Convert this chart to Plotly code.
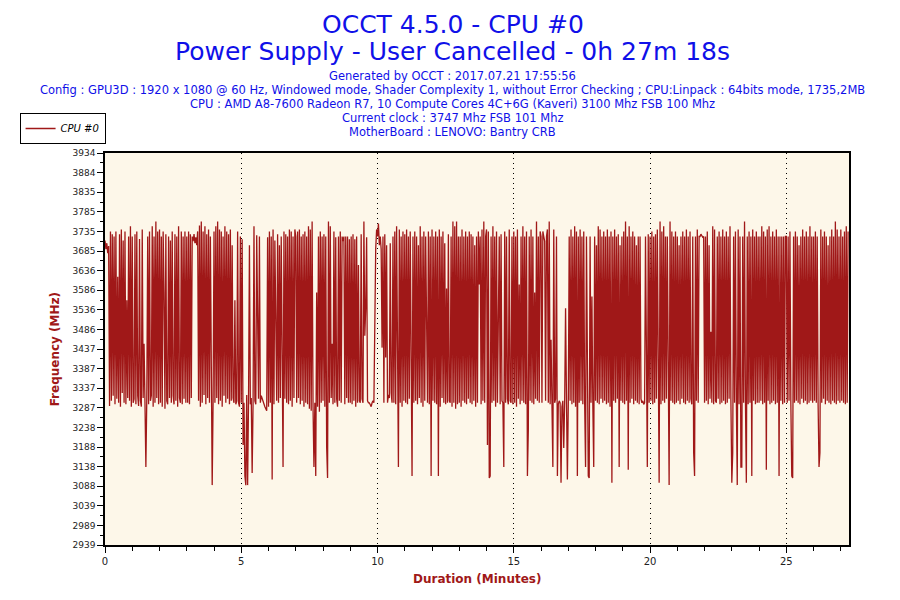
import plotly.graph_objects as go

# CPU #0 frequency, one sample every 2 s, one list per minute (MHz)
m00 = [3712, 3690, 3705, 3680, 3698, 3292, 3735, 3305, 3728, 3318, 3722, 3296, 3735, 3310, 3620, 3300, 3728, 3290, 3740, 3325, 3712, 3300, 3735, 3296, 3560, 3312, 3722, 3305, 3748, 3290]
m01 = [3722, 3300, 3310, 3728, 3296, 3735, 3318, 3292, 3716, 3305, 3290, 3740, 3312, 3450, 3300, 3137, 3310, 3722, 3296, 3735, 3305, 3318, 3748, 3290, 3722, 3300, 3760, 3312, 3735, 3296]
m02 = [3740, 3300, 3722, 3290, 3735, 3580, 3285, 3728, 3305, 3296, 3722, 3312, 3712, 3300, 3735, 3318, 3296, 3728, 3305, 3722, 3290, 3748, 3312, 3300, 3735, 3296, 3722, 3310, 3735, 3300]
m03 = [3722, 3300, 3735, 3296, 3728, 3312, 3722, 3710, 3728, 3705, 3720, 3700, 3735, 3305, 3750, 3290, 3760, 3300, 3735, 3320, 3748, 3296, 3728, 3312, 3740, 3300, 3722, 3290, 3091, 3305]
m04 = [3735, 3300, 3748, 3312, 3760, 3296, 3740, 3305, 3735, 3290, 3722, 3318, 3748, 3300, 3735, 3310, 3728, 3296, 3740, 3305, 3700, 3312, 3300, 3560, 3296, 3305, 3735, 3300, 3290, 3722]
m05 = [3300, 3715, 3193, 3300, 3114, 3091, 3320, 3091, 3305, 3700, 3296, 3312, 3122, 3300, 3748, 3305, 3296, 3725, 3560, 3310, 3722, 3300, 3318, 3310, 3300, 3296, 3290, 3285, 3280, 3720]
m06 = [3290, 3735, 3300, 3722, 3105, 3740, 3296, 3712, 3497, 3305, 3728, 3300, 3700, 3312, 3722, 3296, 3137, 3735, 3310, 3728, 3300, 3722, 3296, 3740, 3305, 3735, 3290, 3722, 3312, 3740]
m07 = [3722, 3300, 3735, 3312, 3740, 3296, 3722, 3305, 3728, 3290, 3735, 3300, 3722, 3296, 3748, 3285, 3740, 3280, 3760, 3290, 3137, 3300, 3114, 3580, 3290, 3722, 3277, 3735, 3300, 3722]
m08 = [3305, 3728, 3290, 3722, 3188, 3109, 3760, 3300, 3748, 3312, 3450, 3296, 3735, 3300, 3720, 3310, 3290, 3722, 3305, 3735, 3300, 3722, 3710, 3722, 3296, 3722, 3312, 3722, 3300, 3715]
m09 = [3300, 3722, 3296, 3728, 3305, 3715, 3290, 3722, 3300, 3650, 3305, 3300, 3728, 3310, 3300, 3760, 3470, 3540, 3720, 3305, 3300, 3300, 3296, 3290, 3300, 3305, 3300, 3600, 3690, 3740]
m10 = [3722, 3755, 3700, 3722, 3690, 3440, 3722, 3300, 3728, 3415, 3700, 3300, 3320, 3312, 3705, 3325, 3300, 3722, 3300, 3735, 3296, 3748, 3305, 3137, 3740, 3300, 3722, 3290, 3735, 3305]
m11 = [3728, 3300, 3740, 3296, 3722, 3310, 3735, 3290, 3114, 3722, 3300, 3735, 3305, 3722, 3296, 3700, 3312, 3748, 3300, 3722, 3290, 3735, 3305, 3722, 3480, 3300, 3735, 3296, 3722, 3114]
m12 = [3740, 3305, 3722, 3300, 3735, 3296, 3722, 3114, 3740, 3290, 3722, 3312, 3735, 3300, 3705, 3296, 3590, 3300, 3728, 3305, 3300, 3722, 3290, 3760, 3300, 3748, 3285, 3760, 3296, 3722]
m13 = [3300, 3722, 3290, 3740, 3305, 3722, 3300, 3735, 3296, 3722, 3310, 3735, 3300, 3728, 3296, 3722, 3305, 3700, 3290, 3722, 3300, 3735, 3600, 3722, 3296, 3740, 3305, 3760, 3300, 3722]
m14 = [3740, 3193, 3735, 3109, 3114, 3722, 3300, 3748, 3305, 3722, 3290, 3735, 3300, 3450, 3722, 3296, 3728, 3305, 3300, 3137, 3735, 3300, 3722, 3310, 3296, 3740, 3305, 3300, 3722, 3296]
m15 = [3735, 3300, 3722, 3290, 3740, 3310, 3600, 3296, 3722, 3305, 3748, 3300, 3722, 3296, 3735, 3114, 3231, 3722, 3305, 3740, 3300, 3722, 3296, 3580, 3310, 3760, 3305, 3722, 3300, 3735]
m16 = [3722, 3300, 3735, 3722, 3710, 3305, 3722, 3740, 3300, 3760, 3296, 3460, 3305, 3137, 3740, 3300, 3310, 3722, 3114, 3296, 3305, 3300, 3097, 3290, 3305, 3185, 3300, 3540, 3310, 3105]
m17 = [3300, 3722, 3305, 3740, 3296, 3722, 3300, 3748, 3290, 3735, 3114, 3722, 3300, 3740, 3305, 3722, 3296, 3735, 3300, 3137, 3722, 3305, 3114, 3109, 3722, 3300, 3570, 3296, 3137, 3722]
m18 = [3305, 3700, 3300, 3748, 3296, 3740, 3310, 3722, 3300, 3735, 3305, 3722, 3296, 3740, 3300, 3722, 3290, 3735, 3097, 3722, 3305, 3740, 3300, 3722, 3310, 3728, 3137, 3700, 3305, 3722]
m19 = [3300, 3735, 3296, 3760, 3305, 3722, 3130, 3748, 3300, 3722, 3310, 3735, 3296, 3722, 3305, 3700, 3300, 3722, 3296, 3722, 3310, 3300, 3305, 3296, 3300, 3722, 3305, 3137, 3728, 3300]
m20 = [3722, 3305, 3735, 3296, 3722, 3300, 3728, 3310, 3740, 3300, 3097, 3760, 3296, 3735, 3305, 3748, 3300, 3722, 3310, 3722, 3296, 3091, 3760, 3305, 3735, 3300, 3722, 3296, 3735, 3300]
m21 = [3722, 3305, 3700, 3296, 3722, 3310, 3735, 3300, 3722, 3296, 3740, 3305, 3722, 3300, 3735, 3310, 3296, 3722, 3173, 3114, 3722, 3305, 3740, 3300, 3722, 3722, 3728, 3722, 3720, 3722]
m22 = [3300, 3722, 3305, 3735, 3296, 3700, 3310, 3480, 3300, 3748, 3296, 3740, 3305, 3300, 3722, 3310, 3735, 3296, 3722, 3300, 3740, 3305, 3722, 3296, 3735, 3300, 3722, 3310, 3748, 3305]
m23 = [3097, 3173, 3722, 3300, 3735, 3305, 3091, 3740, 3296, 3722, 3137, 3137, 3722, 3300, 3760, 3305, 3097, 3722, 3296, 3735, 3300, 3722, 3114, 3740, 3305, 3722, 3296, 3735, 3300, 3722]
m24 = [3300, 3722, 3305, 3748, 3296, 3735, 3300, 3722, 3130, 3740, 3305, 3748, 3296, 3722, 3300, 3735, 3305, 3722, 3296, 3740, 3300, 3722, 3114, 3722, 3305, 3722, 3296, 3722, 3300, 3722]
m25 = [3722, 3300, 3722, 3305, 3735, 3296, 3114, 3109, 3722, 3300, 3735, 3305, 3722, 3300, 3700, 3296, 3722, 3310, 3740, 3300, 3722, 3305, 3735, 3296, 3722, 3300, 3748, 3305, 3722, 3300]
m26 = [3722, 3305, 3735, 3300, 3722, 3296, 3137, 3173, 3740, 3300, 3722, 3310, 3735, 3296, 3722, 3305, 3700, 3300, 3722, 3296, 3740, 3305, 3722, 3300, 3760, 3296, 3740, 3305, 3722, 3300]
m27 = [3740, 3305, 3722, 3300, 3735, 3296, 3748, 3300, 3735]

freq = (m00 + m01 + m02 + m03 + m04 + m05 + m06 + m07 + m08 + m09 + m10 + m11 + m12 + m13
        + m14 + m15 + m16 + m17 + m18 + m19 + m20 + m21 + m22 + m23 + m24 + m25 + m26 + m27)
sample_sec = 2
minutes = [i * sample_sec / 60 for i in range(len(freq))]

y_labels = ["2939", "2989", "3039", "3088", "3138", "3188", "3238", "3287", "3337", "3387", "3437",
            "3486", "3536", "3586", "3636", "3685", "3735", "3785", "3835", "3884", "3934"]
y_min, y_max = 2939, 3934
y_step = (y_max - y_min) / (len(y_labels) - 1)
y_vals = [y_min + i * y_step for i in range(len(y_labels))]

info_lines = [
    "Generated by OCCT : 2017.07.21 17:55:56",
    "Config : GPU3D : 1920 x 1080 @ 60 Hz, Windowed mode, Shader Complexity 1, without Error Checking ; CPU:Linpack : 64bits mode, 1735,2MB",
    "CPU : AMD A8-7600 Radeon R7, 10 Compute Cores 4C+6G (Kaveri) 3100 Mhz FSB 100 Mhz",
    "Current clock : 3747 Mhz FSB 101 Mhz",
    "MotherBoard : LENOVO: Bantry CRB",
]

RED = "#a01818"
BLUE = "#1010e8"
FONT = "DejaVu Sans"

fig = go.Figure()
fig.add_trace(go.Scatter(
    x=minutes, y=freq, mode="lines", name="<i>CPU #0</i>",
    line=dict(color=RED, width=1.3),
))

# plot area on the page: x 100..849, y 153..545 (page has an 8px body margin)
def py(p):
    return (545 - p) / 392

def px(p):
    return (p - 100) / 749

ann = [
    dict(text="OCCT 4.5.0 - CPU #0", x=px(450), y=py(8.5), yanchor="top",
         font=dict(size=25, color=BLUE)),
    dict(text="Power Supply - User Cancelled - 0h 27m 18s", x=px(450), y=py(51),
         font=dict(size=25, color=BLUE)),
]
for i, line in enumerate(info_lines):
    ann.append(dict(text=line, x=px(450), y=py(76 + i * 14.1), font=dict(size=11.5, color=BLUE)))
ann.append(dict(text="<b>Frequency (MHz)</b>", x=px(50), y=py(349), textangle=-90,
                font=dict(size=12, color=RED)))
ann.append(dict(text="<b>Duration (Minutes)</b>", x=px(475), y=py(579),
                font=dict(size=12, color=RED)))
for a in ann:
    a.setdefault("yanchor", "middle")
    a.update(xref="paper", yref="paper", showarrow=False, xanchor="center",
             borderpad=0, font=dict(family=FONT, **a["font"]))
    fig.add_annotation(**a)

fig.update_layout(
    width=892, height=592,
    margin=dict(l=92, r=51, t=145, b=55),
    paper_bgcolor="white",
    plot_bgcolor="#fdf7e9",
    font=dict(family=FONT, size=10, color="#222222"),
    showlegend=True,
    legend=dict(x=px(14), y=py(113), xanchor="left", yanchor="top",
                bordercolor="black", borderwidth=1, bgcolor="white",
                font=dict(family=FONT, size=10, color="black"),
                itemwidth=30, tracegroupgap=0),
)
fig.update_xaxes(
    range=[0, 27.3], tick0=0, dtick=5, showgrid=True, gridcolor="black", griddash="1px,4px",
    gridwidth=1, zeroline=False, showline=True, linecolor="black", linewidth=1.5, mirror=True,
    ticks="outside", ticklen=6, tickcolor="black",
    minor=dict(dtick=1, tick0=0, ticks="outside", ticklen=4, tickcolor="black", showgrid=False),
    tickfont=dict(size=10, color="#222222"),
)
fig.update_yaxes(
    range=[y_min, y_max], tickmode="array", tickvals=y_vals, ticktext=y_labels,
    showgrid=False, zeroline=False, showline=True, linecolor="black", linewidth=1.5, mirror=True,
    ticks="outside", ticklen=6, tickcolor="black",
    minor=dict(tickmode="linear", tick0=y_min, dtick=y_step / 2, ticks="outside", ticklen=3,
               tickcolor="black", showgrid=False),
    tickfont=dict(size=9, color="#222222"),
)

fig.write_html("out.html")
